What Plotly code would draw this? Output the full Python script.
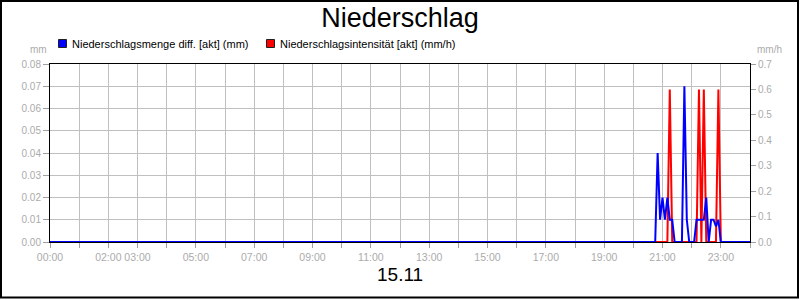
import plotly.graph_objects as go

# ---- data -------------------------------------------------------------
blue_name = "Niederschlagsmenge diff. [akt] (mm)"
blue_times = ["00:00", "20:45", "20:50", "20:55", "21:00", "21:05", "21:10", "21:15",
              "21:20", "21:25", "21:40", "21:45", "21:50", "21:55", "22:05", "22:10",
              "22:15", "22:20", "22:25", "22:30", "22:35", "22:40", "22:45", "22:50",
              "22:55", "23:00", "24:00"]
blue_vals = [0, 0, 0.04, 0.01, 0.02, 0.01, 0.02, 0.01,
             0.01, 0, 0, 0.07, 0.01, 0, 0, 0.01,
             0.01, 0.01, 0.01, 0.02, 0, 0.01, 0.01, 0.007,
             0.01, 0, 0]

red_name = "Niederschlagsintensität [akt] (mm/h)"
red_times = ["00:00", "21:10", "21:15", "21:20", "22:10", "22:15", "22:20", "22:25",
             "22:30", "22:50", "22:55", "23:00", "24:00"]
red_vals = [0, 0, 0.6, 0, 0, 0.6, 0, 0.6, 0, 0, 0.6, 0, 0]

x_tick_hours = list(range(0, 25))
x_tick_labels = ["00:00", "", "02:00", "03:00", "", "05:00", "", "07:00", "", "09:00", "",
                 "11:00", "", "13:00", "", "15:00", "", "17:00", "", "19:00", "", "21:00",
                 "", "23:00", ""]
left_ticks = [0, 0.01, 0.02, 0.03, 0.04, 0.05, 0.06, 0.07, 0.08]
right_ticks = [0, 0.1, 0.2, 0.3, 0.4, 0.5, 0.6, 0.7]

title_text = "Niederschlag"
date_text = "15.11"
left_unit = "mm"
right_unit = "mm/h"


def to_hours(s):
    h, m = s.split(":")
    return int(h) + int(m) / 60.0


FONT = "Liberation Sans, Arial, sans-serif"
GREY_TXT = "#ababab"
GRID = "#c0c0c0"

# ---- figure -----------------------------------------------------------
W, H = 800, 300
ML, MR, MT, MB = 50, 50, 64, 58
PW, PH = W - ML - MR, H - MT - MB


def px_x(p):
    return (p - ML) / PW


def px_y(p):
    return (H - MB - p) / PH


fig = go.Figure()
fig.add_trace(go.Scatter(x=[to_hours(t) for t in red_times], y=red_vals, name=red_name,
                         mode="lines", line=dict(color="#ff0000", width=2),
                         yaxis="y2", showlegend=False, hoverinfo="skip"))
fig.add_trace(go.Scatter(x=[to_hours(t) for t in blue_times], y=blue_vals, name=blue_name,
                         mode="lines", line=dict(color="#0000ff", width=2),
                         yaxis="y", showlegend=False, hoverinfo="skip"))

shapes = [
    # outer frame
    dict(type="rect", xref="paper", yref="paper",
         x0=px_x(1), x1=px_x(798), y0=px_y(297.5), y1=px_y(1),
         line=dict(color="black", width=2), fillcolor="rgba(0,0,0,0)", layer="above"),
    # legend squares
    dict(type="rect", xref="paper", yref="paper",
         x0=px_x(58.5), x1=px_x(66.5), y0=px_y(47.5), y1=px_y(39.5),
         line=dict(color="#202020", width=1), fillcolor="#0000ff"),
    dict(type="rect", xref="paper", yref="paper",
         x0=px_x(266.5), x1=px_x(274.5), y0=px_y(47.5), y1=px_y(39.5),
         line=dict(color="#202020", width=1), fillcolor="#ff0000"),
]

annotations = [
    dict(text=blue_name, xref="paper", yref="paper", x=px_x(69.5), y=px_y(44),
         xanchor="left", yanchor="middle", showarrow=False,
         font=dict(family=FONT, size=11, color="black")),
    dict(text=red_name, xref="paper", yref="paper", x=px_x(277.5), y=px_y(44),
         xanchor="left", yanchor="middle", showarrow=False,
         font=dict(family=FONT, size=11, color="black")),
    dict(text=left_unit, xref="paper", yref="paper", x=px_x(48.5), y=px_y(49.5),
         xanchor="right", yanchor="middle", showarrow=False,
         font=dict(family=FONT, size=10, color=GREY_TXT)),
    dict(text=right_unit, xref="paper", yref="paper", x=px_x(754.5), y=px_y(49.5),
         xanchor="left", yanchor="middle", showarrow=False,
         font=dict(family=FONT, size=10, color=GREY_TXT)),
    dict(text=date_text, xref="paper", yref="paper", x=0.5, y=px_y(274),
         xanchor="center", yanchor="middle", showarrow=False,
         font=dict(family=FONT, size=19, color="black")),
]

fig.update_layout(
    width=W, height=H,
    margin=dict(l=ML, r=MR, t=MT, b=MB, pad=0),
    paper_bgcolor="white", plot_bgcolor="white",
    title=dict(text=title_text, x=0.5, xanchor="center", xref="container",
               y=1 - 18 / H, yanchor="middle", yref="container",
               font=dict(family=FONT, size=27, color="black")),
    showlegend=False,
    shapes=shapes,
    annotations=annotations,
    xaxis=dict(range=[0, 24], tickmode="array", tickvals=x_tick_hours, ticktext=x_tick_labels,
               ticks="outside", ticklen=5, tickcolor="#a0a0a0", tickwidth=1,
               showgrid=True, gridcolor=GRID, gridwidth=1,
               showline=True, linecolor="black", linewidth=1, mirror=True,
               zeroline=False, tickangle=0,
               tickfont=dict(family=FONT, size=10.5, color=GREY_TXT)),
    yaxis=dict(range=[0, 0.08], tickmode="array", tickvals=left_ticks, tickformat=".2f",
               side="left", overlaying="y2",
               ticks="outside", ticklen=6, tickcolor="#a0a0a0", tickwidth=1,
               showgrid=True, gridcolor=GRID, gridwidth=1,
               showline=True, linecolor="black", linewidth=1, mirror=True,
               zeroline=False,
               tickfont=dict(family=FONT, size=10, color=GREY_TXT)),
    yaxis2=dict(range=[0, 0.7], tickmode="array", tickvals=right_ticks, tickformat=".1f",
                side="right",
                ticks="outside", ticklen=5, tickcolor="#a0a0a0", tickwidth=1,
                showgrid=False,
                showline=True, linecolor="black", linewidth=1,
                zeroline=False,
                tickfont=dict(family=FONT, size=10, color=GREY_TXT)),
)

fig.write_html("out.html")
